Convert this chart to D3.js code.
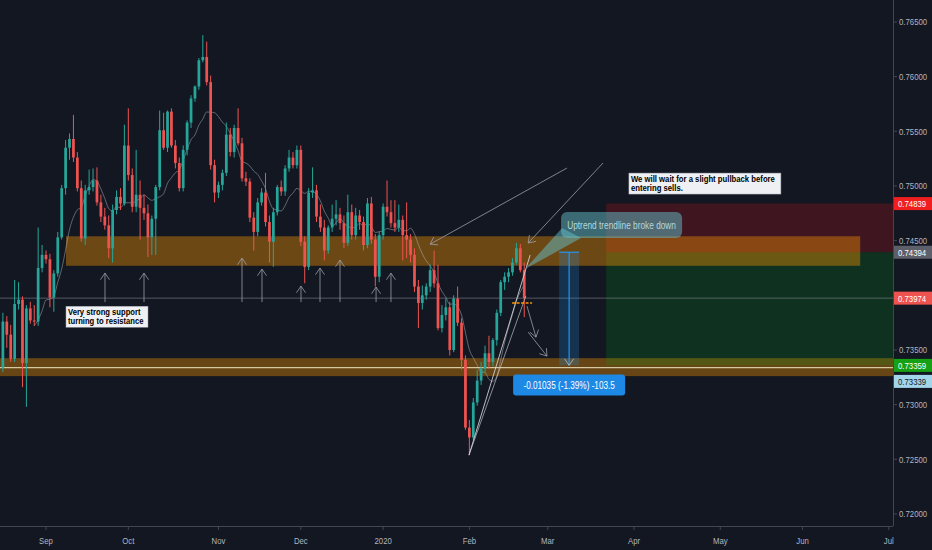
<!DOCTYPE html>
<html><head><meta charset="utf-8">
<script src="https://cdnjs.cloudflare.com/ajax/libs/d3/7.8.5/d3.min.js"></script>
<style>html,body{margin:0;padding:0;background:#131722;overflow:hidden}svg{display:block}</style>
</head><body><svg id="c" width="932" height="550"></svg>
<script>
// ---------------- DATA (AUDUSD-like daily candles, first bar 2019-08-16) ----------------
const firstDay = "2019-08-16";
const holidays = ["2019-12-25", "2020-01-01"];
const opens = [0.7334,0.7376,0.7364,0.7342,0.7392,0.7396,0.7338,0.7388,0.7377,0.7376,0.7425,
0.7437,0.7433,0.7398,0.7420,0.7453,0.7498,0.7535,0.7543,0.7526,0.7498,0.7452,0.7496,0.7499,0.7505,0.7485,0.7472,0.7464,0.7443,0.7478,0.7490,
0.7484,0.7537,0.7510,0.7481,0.7492,0.7480,0.7475,0.7453,0.7470,0.7499,0.7551,0.7535,0.7568,0.7537,0.7521,0.7498,0.7533,0.7558,0.7580,0.7591,
0.7615,0.7618,0.7595,0.7519,0.7494,0.7501,0.7512,0.7547,0.7531,0.7553,0.7539,0.7507,0.7504,0.7471,0.7458,0.7485,0.7494,0.7467,0.7449,0.7476,
0.7499,0.7495,0.7516,0.7526,0.7519,0.7533,0.7449,0.7426,0.7494,0.7496,0.7472,0.7462,0.7441,0.7462,0.7470,0.7474,0.7466,0.7448,0.7476,0.7455,
0.7473,0.7467,0.7446,0.7484,0.7451,0.7417,0.7455,0.7481,0.7476,0.7466,0.7462,0.7469,0.7455,0.7451,0.7437,0.7408,0.7393,0.7400,0.7408,0.7423,
0.7411,0.7370,0.7382,0.7389,0.7350,0.7397,0.7375,0.7341,0.7279,0.7270,0.7302,0.7322,0.7333,0.7347,0.7339,0.7359,0.7384,0.7412,0.7417,0.7421,
0.7430,0.7443,0.7423];
const highs = [0.7384,0.7381,0.7373,0.7414,0.7412,0.7399,0.7391,0.7394,0.7391,0.7462,0.7446,
0.7441,0.7438,0.7423,0.7458,0.7501,0.7542,0.7548,0.7565,0.7531,0.7505,0.7501,0.7515,0.7516,0.7517,0.7492,0.7480,0.7473,0.7483,0.7496,0.7498,
0.7556,0.7571,0.7516,0.7533,0.7505,0.7492,0.7483,0.7473,0.7501,0.7569,0.7567,0.7569,0.7571,0.7542,0.7526,0.7537,0.7560,0.7583,0.7592,0.7617,
0.7638,0.7632,0.7601,0.7524,0.7504,0.7515,0.7558,0.7553,0.7556,0.7571,0.7544,0.7513,0.7507,0.7476,0.7489,0.7498,0.7512,0.7473,0.7480,0.7501,
0.7505,0.7519,0.7533,0.7531,0.7537,0.7537,0.7454,0.7498,0.7517,0.7501,0.7483,0.7469,0.7464,0.7483,0.7487,0.7480,0.7473,0.7492,0.7483,0.7480,
0.7478,0.7472,0.7489,0.7490,0.7456,0.7458,0.7484,0.7505,0.7487,0.7487,0.7483,0.7473,0.7485,0.7456,0.7443,0.7414,0.7409,0.7411,0.7428,0.7441,
0.7428,0.7391,0.7397,0.7394,0.7400,0.7408,0.7379,0.7345,0.7286,0.7306,0.7332,0.7339,0.7354,0.7363,0.7361,0.7387,0.7414,0.7421,0.7425,0.7434,
0.7448,0.7447,0.7430];
const lows = [0.7330,0.7352,0.7339,0.7339,0.7387,0.7316,0.7298,0.7374,0.7372,0.7372,0.7421,
0.7429,0.7389,0.7385,0.7417,0.7451,0.7492,0.7524,0.7522,0.7495,0.7449,0.7446,0.7492,0.7495,0.7482,0.7467,0.7460,0.7434,0.7430,0.7474,0.7478,
0.7482,0.7505,0.7476,0.7476,0.7451,0.7469,0.7435,0.7437,0.7437,0.7496,0.7533,0.7531,0.7535,0.7516,0.7495,0.7495,0.7528,0.7553,0.7577,0.7588,
0.7613,0.7592,0.7515,0.7485,0.7489,0.7496,0.7509,0.7527,0.7526,0.7537,0.7504,0.7500,0.7467,0.7441,0.7454,0.7482,0.7463,0.7430,0.7426,0.7473,
0.7491,0.7491,0.7513,0.7516,0.7516,0.7445,0.7411,0.7423,0.7489,0.7467,0.7458,0.7432,0.7438,0.7458,0.7464,0.7460,0.7443,0.7445,0.7451,0.7451,
0.7460,0.7441,0.7443,0.7447,0.7408,0.7412,0.7451,0.7472,0.7462,0.7458,0.7458,0.7432,0.7434,0.7430,0.7403,0.7370,0.7387,0.7396,0.7403,0.7407,
0.7368,0.7366,0.7377,0.7345,0.7348,0.7372,0.7332,0.7277,0.7254,0.7268,0.7299,0.7318,0.7330,0.7333,0.7335,0.7354,0.7381,0.7405,0.7412,0.7418,
0.7428,0.7421,0.7380];
const closes = [0.7376,0.7364,0.7342,0.7392,0.7396,0.7338,0.7388,0.7377,0.7376,0.7425,0.7437,
0.7433,0.7398,0.7420,0.7453,0.7498,0.7535,0.7543,0.7526,0.7498,0.7452,0.7496,0.7499,0.7505,0.7485,0.7472,0.7464,0.7443,0.7478,0.7490,0.7484,
0.7537,0.7510,0.7481,0.7492,0.7480,0.7475,0.7453,0.7470,0.7499,0.7551,0.7535,0.7568,0.7537,0.7521,0.7498,0.7533,0.7558,0.7580,0.7591,0.7615,
0.7618,0.7595,0.7519,0.7494,0.7501,0.7512,0.7547,0.7531,0.7553,0.7539,0.7507,0.7504,0.7471,0.7458,0.7485,0.7494,0.7467,0.7449,0.7476,0.7499,
0.7495,0.7516,0.7526,0.7519,0.7533,0.7449,0.7426,0.7494,0.7496,0.7472,0.7462,0.7441,0.7462,0.7470,0.7474,0.7466,0.7448,0.7476,0.7455,0.7473,
0.7467,0.7446,0.7484,0.7451,0.7417,0.7455,0.7481,0.7476,0.7466,0.7462,0.7469,0.7455,0.7451,0.7437,0.7408,0.7393,0.7400,0.7408,0.7423,0.7411,
0.7370,0.7382,0.7389,0.7350,0.7397,0.7375,0.7341,0.7279,0.7270,0.7302,0.7322,0.7333,0.7347,0.7339,0.7359,0.7384,0.7412,0.7417,0.7421,0.7430,
0.7443,0.7423,0.73974];

const priceTicks = [0.720,0.725,0.730,0.735,0.740,0.745,0.750,0.755,0.760,0.765];
const monthNames = ["Jan","Feb","Mar","Apr","May","Jun","Jul","Aug","Sep","Oct","Nov","Dec"];
const maPeriod = 9;

// price levels of the drawing tools
const stopPrice = 0.74839, entryPrice = 0.74394, targetPrice = 0.73359, measureEnd = 0.73339, lastPrice = 0.73974;
const resistZone = [0.7427, 0.7454];
const supportZone = [0.73261, 0.73425];
const measureText = "-0.01035 (-1.39%) -103.5";
const calloutText = "Uptrend trendline broke down";
const noteLines = ["We will wait for a slight pullback before", "entering sells."];
const supportLines = ["Very strong support", "turning to resistance"];

// drawing anchors (bar index, price)
const upArrows = [[26.05,0.74203],[36.0,0.74203],[61.0,0.74340],[66.1,0.74240],[76.05,0.74084],[80.9,0.74249],[86.0,0.74322],[95.2,0.74075],[99.0,0.74203]];
const upArrowBase = 0.73938;

// ---------------- CALENDAR ----------------
function tradingDays(start, end, skip){
  const out=[]; let d=new Date(start+"T00:00:00Z"); const e=new Date(end+"T00:00:00Z");
  while(d<=e){const wd=d.getUTCDay(); const s=d.toISOString().slice(0,10);
    if(wd!==0&&wd!==6&&!skip.includes(s)) out.push(s); d=new Date(d.getTime()+86400000);}
  return out;
}
const days = tradingDays(firstDay, "2020-07-15", holidays);
const candles = closes.map((c,k)=>({k, o:opens[k], h:highs[k], l:lows[k], c, date:days[k]}));

// ---------------- SCALES ----------------
const W=932, H=550, PW=893, PH=526;
const x = d3.scaleLinear().domain([-0.735, 227.07]).range([0, PW]);
const y = d3.scaleLinear().domain([0.71890, 0.76701]).range([PH, 0]);

const svg = d3.select("#c");
svg.append("rect").attr("width",W).attr("height",H).attr("fill","#131722");
svg.append("defs").append("clipPath").attr("id","pc").append("rect").attr("width",PW).attr("height",PH);
const plot = svg.append("g").attr("clip-path","url(#pc)");

const FONT = "'Liberation Sans', Arial, sans-serif";
function txt(g, tx, ty, s, o){
  o=o||{};
  const t=g.append("text").attr("transform",`translate(${tx},${ty}) scale(${o.sx||0.82},1)`)
    .attr("font-family",FONT).attr("font-size",o.size||9.5).attr("fill",o.fill||"#b2b5be")
    .attr("font-weight",o.weight||"normal").attr("text-anchor",o.anchor||"start").text(s);
  return t;
}
function line(g,x1,y1,x2,y2,col,w,dash){
  const l=g.append("line").attr("x1",x1).attr("y1",y1).attr("x2",x2).attr("y2",y2).attr("stroke",col).attr("stroke-width",w||1);
  if(dash) l.attr("stroke-dasharray",dash);
  return l;
}
function head(g,x1,y1,x2,y2,col,size,w){
  const a=Math.atan2(y2-y1,x2-x1), s=size||8, sp=0.6;
  [a+Math.PI-sp, a+Math.PI+sp].forEach(b=>line(g,x2,y2,x2+s*Math.cos(b),y2+s*Math.sin(b),col,w||1));
}

// ---------------- ZONES & POSITION ----------------
const xL=x.domain()[0], xR=x.domain()[1];
plot.append("rect").attr("x",x(xL)).attr("width",x(xR)-x(xL))
  .attr("y",y(supportZone[1])).attr("height",y(supportZone[0])-y(supportZone[1])).attr("fill","rgba(255,152,0,0.36)");
line(plot,x(xL),y(measureEnd),x(xR),y(measureEnd),"rgba(235,225,185,0.85)",1.2);

const posStart = 153.9;
plot.append("rect").attr("x",x(posStart)).attr("width",x(xR)-x(posStart))
  .attr("y",y(stopPrice)).attr("height",y(entryPrice)-y(stopPrice)).attr("fill","rgba(255,20,20,0.19)");
plot.append("rect").attr("x",x(posStart)).attr("width",x(xR)-x(posStart))
  .attr("y",y(entryPrice)).attr("height",y(targetPrice)-y(entryPrice)).attr("fill","rgba(0,170,20,0.18)");

plot.append("rect").attr("x",x(16.1)).attr("width",x(218.7)-x(16.1))
  .attr("y",y(resistZone[1])).attr("height",y(resistZone[0])-y(resistZone[1])).attr("fill","rgba(255,152,0,0.38)");

line(plot,x(xL),y(lastPrice),x(xR),y(lastPrice),"rgba(140,144,155,0.55)",1);

// ---------------- MOVING AVERAGE ----------------
const ma = candles.map((d,k)=> k>=maPeriod-1 ? {k, v:d3.mean(closes.slice(k-maPeriod+1,k+1))} : null).filter(Boolean);
plot.append("path").datum(ma).attr("fill","none").attr("stroke","rgba(190,196,205,0.5)").attr("stroke-width",0.9)
  .attr("d",d3.line().x(d=>x(d.k)).y(d=>y(d.v)).curve(d3.curveMonotoneX));

// ---------------- CANDLES ----------------
const bw = x(0.35)-x(-0.35);
const cg = plot.append("g");
const cs = cg.selectAll("g").data(candles).join("g");
cs.append("line").attr("x1",d=>x(d.k)).attr("x2",d=>x(d.k)).attr("y1",d=>y(d.h)).attr("y2",d=>y(d.l))
  .attr("stroke",d=>d.c>=d.o?"#26a69a":"#ef5350").attr("stroke-width",1);
cs.append("rect").attr("x",d=>x(d.k)-bw/2).attr("width",bw)
  .attr("y",d=>y(Math.max(d.o,d.c))).attr("height",d=>Math.max(1,Math.abs(y(d.o)-y(d.c))))
  .attr("fill",d=>d.c>=d.o?"#26a69a":"#ef5350");

// ---------------- MEASURE TOOL ----------------
const m0=141.9, m1=147.0, mc=(m0+m1)/2;
plot.append("rect").attr("x",x(m0)).attr("width",x(m1)-x(m0)).attr("y",y(entryPrice)).attr("height",y(targetPrice)-y(entryPrice))
  .attr("fill","rgba(33,150,243,0.22)");
line(plot,x(m0),y(entryPrice),x(m1),y(entryPrice),"#2196f3",1.2);
line(plot,x(mc),y(entryPrice),x(mc),y(targetPrice),"#2196f3",1.2);
head(plot,x(mc),y(entryPrice),x(mc),y(targetPrice),"rgba(180,190,205,0.8)",8,1);

const lbW=112, lbH=21, lbTop=y(targetPrice)+9;
svg.append("rect").attr("x",x(mc)-lbW/2).attr("y",lbTop).attr("width",lbW).attr("height",lbH).attr("rx",3).attr("fill","#1e88e5");
txt(svg,x(mc),lbTop+14.5,measureText,{size:10,fill:"#ffffff",anchor:"middle"});

// ---------------- TREND LINES & ARROWS ----------------
const gl="rgba(160,164,175,0.85)";
[[143.9,0.75164,109.0,0.74468],[153.1,0.75210,134.0,0.74478]].forEach(a=>{
  line(plot,x(a[0]),y(a[1]),x(a[2]),y(a[3]),gl,0.9); head(plot,x(a[0]),y(a[1]),x(a[2]),y(a[3]),gl,8,0.9);
});
line(plot,x(118.9),y(0.72538),x(134.5),y(0.74368),"rgba(215,218,226,0.85)",1);
line(plot,x(118.9),y(0.72538),x(133.4),y(0.73993),"rgba(215,218,226,0.6)",1);
[[133.7,0.73901,136.0,0.73617],[134.0,0.73663,138.8,0.73444]].forEach(a=>{
  line(plot,x(a[0]),y(a[1]),x(a[2]),y(a[3]),gl,0.9); head(plot,x(a[0]),y(a[1]),x(a[2]),y(a[3]),gl,8,0.9);
});
line(plot,x(129.9),y(0.73929),x(135.0),y(0.73929),"#ff9800",1.6,"3,1.5");
upArrows.forEach(a=>{
  line(plot,x(a[0]),y(upArrowBase),x(a[0]),y(a[1]),gl,0.9);
  head(plot,x(a[0]),y(upArrowBase),x(a[0]),y(a[1]),gl,8,0.9);
});

// ---------------- CALLOUT ----------------
const cbx=x(142.4), cby=y(0.74761), cbw=121, cbh=26;
const tipX=x(133.2), tipY=y(0.7424);
svg.append("path").attr("d",`M${tipX},${tipY} L${cbx+1},${cby+16} L${cbx+20},${cby+cbh} Z`).attr("fill","rgba(100,190,200,0.5)");
svg.append("rect").attr("x",cbx).attr("y",cby).attr("width",cbw).attr("height",cbh).attr("rx",6).attr("fill","rgba(100,190,200,0.5)");
txt(svg,cbx+cbw/2,cby+17,calloutText,{size:10.5,sx:0.79,fill:"#b4d8de",anchor:"middle"});

// ---------------- TEXT NOTES ----------------
function note(kx,py,w,h,lines,sx){
  const bx=x(kx), by=y(py);
  svg.append("rect").attr("x",bx).attr("y",by).attr("width",w).attr("height",h).attr("fill","#eef0f4").attr("stroke","#9aa0aa").attr("stroke-width",0.5);
  lines.forEach((s,i)=>txt(svg,bx+2,by+8.6+i*9.6,s,{size:8.4,weight:"bold",fill:"#000",sx:sx}));
}
note(159.7,0.75118,152,21,noteLines,0.92);
note(16.1,0.7390,82,21,supportLines,0.91);

// ---------------- AXES ----------------
const axisCol="#434651";
line(svg,PW+0.5,0,PW+0.5,PH,axisCol,1);
line(svg,0,PH+0.5,PW,PH+0.5,axisCol,1);

const tags=[{p:stopPrice,bg:"#f01e1e",fg:"#fff"},{p:entryPrice,bg:"#5d606b",fg:"#fff"},{p:lastPrice,bg:"#ef5350",fg:"#fff"},
  {p:targetPrice,bg:"#16a016",fg:"#fff"},{p:measureEnd,bg:"#a3d5ea",fg:"#131722"}];
const ty=[]; tags.forEach(t=>{let v=y(t.p); if(ty.length && v<ty[ty.length-1]+16 && t.p===measureEnd) v=ty[ty.length-1]+16; ty.push(v); t.yy=v;});

priceTicks.forEach(p=>{
  const yy=y(p);
  if(tags.some(t=>Math.abs(t.yy-yy)<6)) return;
  line(svg,PW,yy,PW+4,yy,axisCol,1);
  txt(svg,PW+6,yy+3.4,p.toFixed(5),{size:9.5});
});
tags.forEach(t=>{
  svg.append("rect").attr("x",PW+1).attr("y",t.yy-6.5).attr("width",W-PW-1).attr("height",13).attr("fill",t.bg);
  txt(svg,PW+5,t.yy+3.4,t.p.toFixed(5),{size:9.5,fill:t.fg});
});

days.forEach((d,k)=>{
  if(k===0) return;
  const mo=+d.slice(5,7), pm=+days[k-1].slice(5,7);
  if(mo===pm) return;
  const xx=x(k); if(xx>PW) return;
  const lab = mo===1 ? d.slice(0,4) : monthNames[mo-1];
  line(svg,xx,PH,xx,PH+4,axisCol,1);
  txt(svg,xx,PH+18,lab,{size:9.5,anchor:"middle"});
});
</script></body></html>
